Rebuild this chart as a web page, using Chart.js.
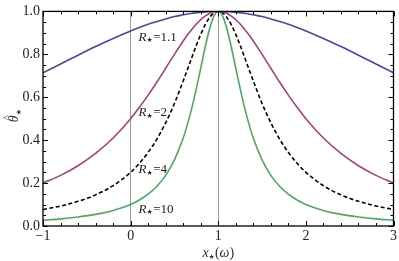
<!DOCTYPE html>
<html>
<head>
<meta charset="utf-8">
<script src="https://cdn.jsdelivr.net/npm/chart.js@4/dist/chart.umd.min.js"></script>
<style>
html,body{margin:0;padding:0;background:#fff;}
#wrap{width:399px;height:261px;}
</style>
</head>
<body>
<div id="wrap"><canvas id="c" width="399" height="261"></canvas></div>
<script>
const xs = [-1,-0.8,-0.6,-0.4,-0.2,0,0.1,0.2,0.3,0.4,0.5,0.6,0.65,0.7,0.75,0.8,0.85,0.9,0.95,1,
            1.05,1.1,1.15,1.2,1.25,1.3,1.35,1.4,1.5,1.6,1.7,1.8,1.9,2,2.2,2.4,2.6,2.8,3];
const r11 = [0.714,0.755,0.796,0.836,0.874,0.909,0.925,0.940,0.953,0.965,0.976,0.984,0.988,0.991,0.994,0.996,0.998,0.999,1.000,1,
             1.000,0.999,0.998,0.996,0.994,0.991,0.988,0.984,0.976,0.965,0.953,0.940,0.925,0.909,0.874,0.836,0.796,0.755,0.714];
const r2  = [0.200,0.236,0.281,0.338,0.410,0.500,0.553,0.610,0.671,0.735,0.800,0.862,0.891,0.917,0.941,0.962,0.978,0.990,0.998,1,
             0.998,0.990,0.978,0.962,0.941,0.917,0.891,0.862,0.800,0.735,0.671,0.610,0.553,0.500,0.410,0.338,0.281,0.236,0.200];
const r4  = [0.077,0.093,0.115,0.145,0.188,0.250,0.292,0.343,0.405,0.481,0.571,0.676,0.731,0.787,0.842,0.893,0.937,0.971,0.993,1,
             0.993,0.971,0.937,0.893,0.842,0.787,0.731,0.676,0.571,0.481,0.405,0.343,0.292,0.250,0.188,0.145,0.115,0.093,0.077];
const r10 = [0.027,0.033,0.042,0.054,0.072,0.100,0.121,0.148,0.185,0.236,0.308,0.410,0.476,0.553,0.640,0.735,0.832,0.917,0.978,1,
             0.978,0.917,0.832,0.735,0.640,0.553,0.476,0.410,0.308,0.236,0.185,0.148,0.121,0.100,0.072,0.054,0.042,0.033,0.027];
const seriesLabels = ['1.1','2','4','10'];
const labelPos = [[0.09,0.879],[0.09,0.528],[0.09,0.262],[0.09,0.077]];
const xTicks = [-1,0,1,2,3];
const yTicks = [0,0.2,0.4,0.6,0.8,1.0];

const pts = arr => xs.map((x,i)=>({x:x,y:arr[i]}));
const SERIF = '"Liberation Serif","Times New Roman",serif';

const decor = {
  id:'decor',
  afterDraw(chart){
    const ctx = chart.ctx, a = chart.chartArea;
    const xs_ = chart.scales.x, ys_ = chart.scales.y;
    ctx.save();
    ctx.strokeStyle = '#000';
    ctx.lineWidth = 1.3;
    ctx.strokeRect(a.left, a.top, a.right - a.left, a.bottom - a.top);
    ctx.lineWidth = 1;
    for (let i = 0; i <= 20; i++) {
      const v = -1 + i * 0.2;
      const px = Math.round(xs_.getPixelForValue(v)) + 0.5;
      const len = (i % 5 === 0) ? 5 : 3;
      ctx.beginPath();
      ctx.moveTo(px, a.bottom); ctx.lineTo(px, a.bottom - len);
      ctx.moveTo(px, a.top); ctx.lineTo(px, a.top + len);
      ctx.stroke();
    }
    for (let i = 0; i <= 20; i++) {
      const v = i * 0.05;
      const py = Math.round(ys_.getPixelForValue(v)) + 0.5;
      const len = (i % 4 === 0) ? 5 : 3;
      ctx.beginPath();
      ctx.moveTo(a.left, py); ctx.lineTo(a.left + len, py);
      ctx.moveTo(a.right, py); ctx.lineTo(a.right - len, py);
      ctx.stroke();
    }
    // curve labels
    ctx.fillStyle = '#222';
    ctx.textBaseline = 'middle';
    ctx.textAlign = 'left';
    seriesLabels.forEach((lab, i) => {
      let px = xs_.getPixelForValue(labelPos[i][0]);
      const py = ys_.getPixelForValue(labelPos[i][1]);
      ctx.font = 'italic 13px ' + SERIF;
      ctx.fillText('R', px, py);
      px += ctx.measureText('R').width;
      ctx.font = '7px "DejaVu Sans"';
      ctx.fillText('★', px, py + 3);
      px += ctx.measureText('★').width + 0.5;
      ctx.font = '13px ' + SERIF;
      ctx.fillText('=' + lab, px, py);
    });
    // x title
    ctx.fillStyle = '#333';
    ctx.textBaseline = 'alphabetic';
    const cx = (a.left + a.right) / 2;
    const ty = 257;
    ctx.font = 'italic 14px ' + SERIF;
    const wx = ctx.measureText('x').width;
    ctx.font = '7px "DejaVu Sans"';
    const ws = ctx.measureText('★').width;
    ctx.font = '14px ' + SERIF;
    const wp1 = ctx.measureText('(').width, wp2 = ctx.measureText(')').width;
    ctx.font = 'italic 14px ' + SERIF;
    const wo = ctx.measureText('ω').width;
    let sx = cx - (wx + ws + wp1 + wo + wp2) / 2;
    ctx.font = 'italic 14px ' + SERIF; ctx.fillText('x', sx, ty); sx += wx;
    ctx.font = '7px "DejaVu Sans"'; ctx.fillText('★', sx, ty + 2); sx += ws;
    ctx.font = '14px ' + SERIF; ctx.fillText('(', sx, ty); sx += wp1;
    ctx.font = 'italic 14px ' + SERIF; ctx.fillText('ω', sx, ty); sx += wo;
    ctx.font = '14px ' + SERIF; ctx.fillText(')', sx, ty);
    // y title (rotated): theta with hat, subscript star
    ctx.save();
    ctx.translate(18, (a.top + a.bottom) / 2 - 3);
    ctx.rotate(-Math.PI / 2);
    ctx.font = 'italic 14px ' + SERIF;
    const wt = ctx.measureText('θ').width;
    const x0 = -wt / 2 - 3;
    ctx.fillText('θ', x0, 0);
    ctx.font = '10px ' + SERIF;
    const wh = ctx.measureText('^').width;
    ctx.fillText('^', x0 + wt / 2 - wh / 2 + 1, -8);
    ctx.font = '7px "DejaVu Sans"';
    ctx.fillText('★', x0 + wt, 3);
    ctx.restore();
    ctx.restore();
  }
};

new Chart(document.getElementById('c'), {
  type: 'line',
  data: {
    datasets: [
      {data: pts(r11), borderColor: '#4148a6', borderWidth: 1.6},
      {data: pts(r2),  borderColor: '#a2437f', borderWidth: 1.6},
      {data: pts(r4),  borderColor: '#000000', borderWidth: 1.6, borderDash: [4, 2.5]},
      {data: pts(r10), borderColor: '#4fa862', borderWidth: 1.6}
    ]
  },
  options: {
    responsive: false,
    animation: false,
    devicePixelRatio: 1,
    layout: {padding: {top: 6, right: 5, left: 0, bottom: 0}},
    elements: {point: {radius: 0}, line: {cubicInterpolationMode: 'monotone', fill: false}},
    plugins: {legend: {display: false}, tooltip: {enabled: false}},
    scales: {
      x: {
        type: 'linear', min: -1, max: 3,
        afterBuildTicks: s => { s.ticks = xTicks.map(v => ({value: v})); },
        afterFit: s => { s.height = 35; },
        ticks: {
          font: {family: SERIF, size: 14}, color: '#222', padding: 2, maxRotation: 0,
          callback: v => v < 0 ? '\u2212' + Math.abs(v) : String(v)
        },
        grid: {
          drawTicks: false,
          color: c => (c.tick && (c.tick.value === 0 || c.tick.value === 1)) ? '#9a9a9a' : 'rgba(0,0,0,0)',
          lineWidth: 1
        },
        border: {display: false}
      },
      y: {
        type: 'linear', min: 0, max: 1,
        afterBuildTicks: s => { s.ticks = yTicks.map(v => ({value: v})); },
        afterFit: s => { s.width = 43; },
        ticks: {
          font: {family: SERIF, size: 14}, color: '#222', padding: 3,
          callback: v => Number(v).toFixed(1)
        },
        grid: {display: false, drawTicks: false},
        border: {display: false}
      }
    }
  },
  plugins: [decor]
});
</script>
</body>
</html>
